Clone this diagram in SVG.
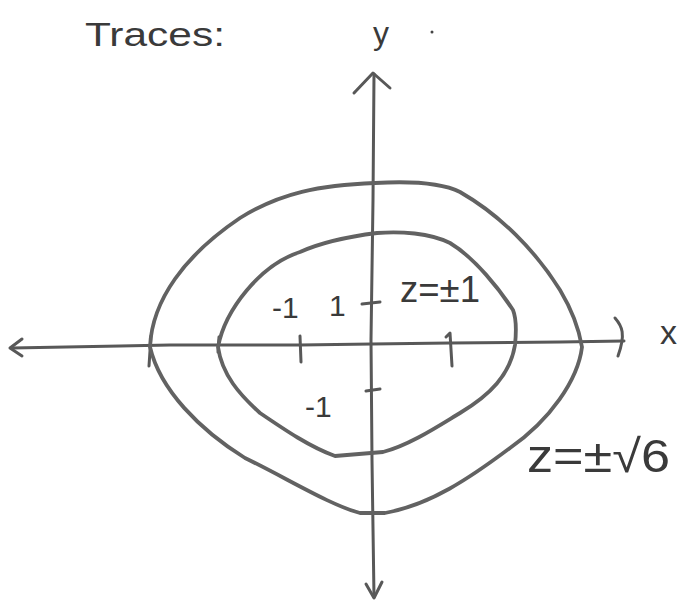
<svg xmlns="http://www.w3.org/2000/svg" width="697" height="601" viewBox="0 0 697 601">
<style>
.ln{fill:none;stroke:#626262;stroke-width:3.8;stroke-linecap:round;stroke-linejoin:round}
.ax{fill:none;stroke:#585858;stroke-width:3;stroke-linecap:round;stroke-linejoin:round}
.tx{font-family:"Liberation Sans",Arial,sans-serif;fill:#3a3a3a}
</style>
<rect width="697" height="601" fill="#fff"/>
<g id="axes">
<path class="ax" d="M12,348 L120,346 L170,345 L300,345 L372,344 L450,343 L560,342 L624,341"/>
<path class="ax" d="M22,339 L10,348 L22,356"/>
<path class="ax" d="M615,318 C622,326 626,334 618,356"/>
<path class="ax" d="M374,74 L373,200 L371,340 L372,460 L374,597"/>
<path class="ax" d="M354,93 L373,73 L390,88"/>
<path class="ax" d="M366,584 L374,598 L382,582"/>
</g>
<g id="ticks">
<path class="ax" d="M300,336 L301,362"/>
<path class="ax" d="M446,337 L450,333 L452,366"/>
<path class="ax" d="M362,304 L380,302"/>
<path class="ax" d="M366,391 L380,389"/>
<path class="ax" d="M151,336 L149,366"/>
<path class="ax" d="M219,337 L218,352"/>
</g>
<g id="outer-trace">
<path class="ln" d="M150,347 C152,300 185,255 240,218 C280,193 320,185 375,183 C410,181 440,182 460,192 C500,215 535,250 560,290 C575,315 580,335 582,347 C578,380 550,420 510,448 C470,478 430,505 385,513 L360,513 C330,505 290,480 245,458 C200,430 160,390 150,347 Z"/>
</g>
<g id="inner-trace">
<path class="ln" d="M218,347 C225,310 260,265 300,252 C320,243 345,237 377,233 C400,231 430,233 450,243 C475,258 500,290 513,310 C517,320 516,335 515,345 C510,375 490,395 460,413 C440,425 410,445 383,452 L335,456 C310,447 285,430 260,413 C240,395 222,375 218,347 Z"/>
</g>
<g id="labels">
<text class="tx" x="85" y="46" font-size="34" textLength="140" lengthAdjust="spacingAndGlyphs">Traces:</text>
<text class="tx" x="373" y="44" font-size="32">y</text>
<circle cx="432" cy="32" r="1.5" fill="#444"/>
<text class="tx" x="660" y="344" font-size="34">x</text>
<text class="tx" x="272" y="318" font-size="30">-1</text>
<text class="tx" x="329" y="316" font-size="30">1</text>
<text class="tx" x="400" y="302" font-size="36" textLength="80" lengthAdjust="spacingAndGlyphs">z=±1</text>
<text class="tx" x="305" y="417" font-size="30">-1</text>
<text class="tx" x="527" y="472" font-size="46" textLength="143" lengthAdjust="spacingAndGlyphs">z=±√6</text>
</g>
</svg>
